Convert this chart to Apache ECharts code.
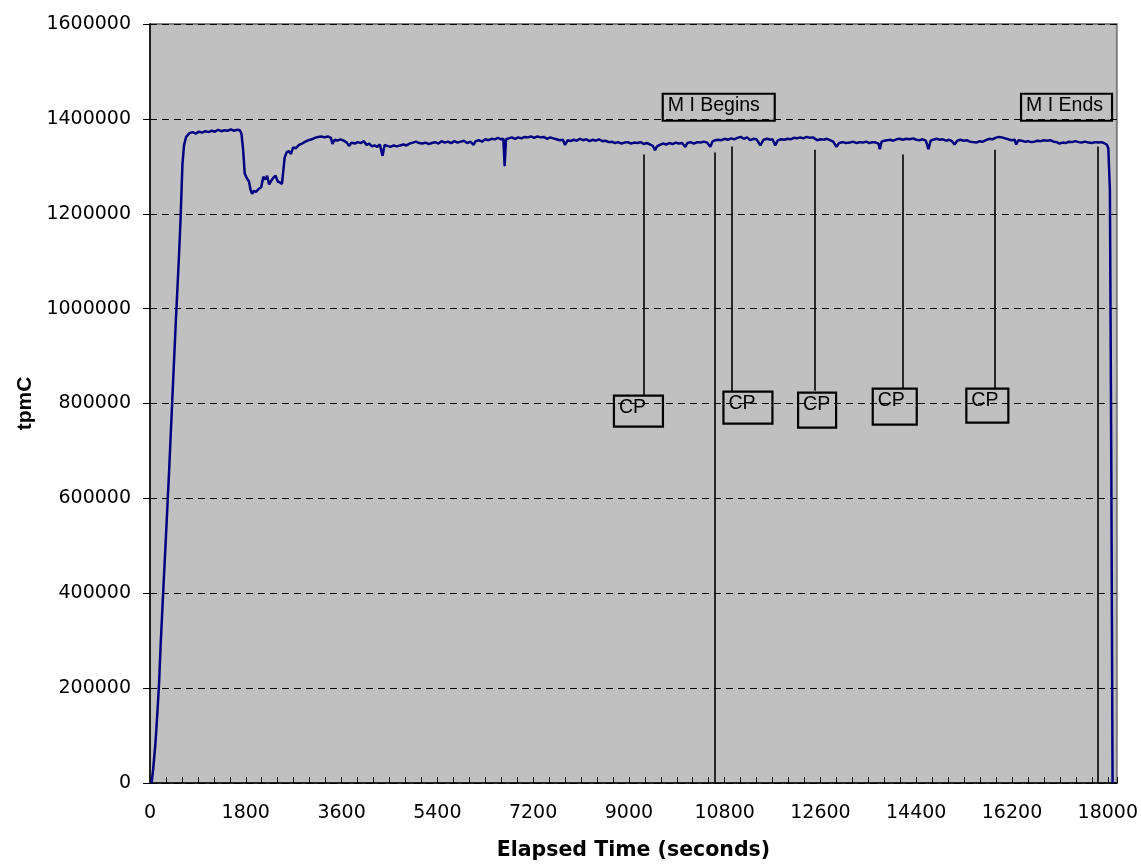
<!DOCTYPE html>
<html>
<head>
<meta charset="utf-8">
<script src="https://cdn.jsdelivr.net/npm/echarts@6/dist/echarts.min.js"></script>
<style>
html,body{margin:0;padding:0;background:#fff;}
#chart{width:1141px;height:866px;}
</style>
</head>
<body>
<div id="chart"></div>
<script>
// Elapsed time (seconds)
const times = [
30,60,100,140,170,200,240,300,360,420,480,540,575,610,640,680,740,800,860,920,980,1040,1100,1160,1220,1280,1340,1400,1460,1520,1580,1640,1690,1720,1750,1780,1820,1860,1890,1920,1950,1990,2040,2090,2130,2170,2200,2240,2280,2320,2360,2400,2440,2480,2510,2530,2570,2610,2650,2690,2740,2800,2860,2920,2980,3040,3100,3160,3220,3280,3340,3400,3430,3470,3520,3580,3640,3700,3740,3790,3850,3900,3960,4020,4070,4120,4170,4220,4270,4320,4370,4410,4460,4520,4580,4640,4700,4760,4820,4880,4940,5000,5060,5120,5180,5240,5300,5360,5420,5480,5540,5600,5660,5720,5780,5840,5900,5960,6020,6080,6120,6180,6240,6300,6360,6420,6480,6540,6600,6640,6665,6690,6740,6800,6860,6920,6980,7040,7100,7160,7220,7280,7340,7400,7460,7520,7580,7640,7700,7760,7800,7850,7900,7960,8020,8080,8140,8200,8260,8320,8380,8440,8500,8560,8620,8680,8740,8800,8860,8920,8980,9040,9100,9160,9220,9280,9340,9400,9450,9490,9530,9580,9640,9700,9760,9820,9880,9940,10000,10060,10100,10160,10220,10290,10350,10410,10470,10530,10570,10620,10680,10740,10800,10860,10920,10980,11040,11100,11160,11220,11280,11340,11400,11470,11530,11600,11660,11700,11750,11800,11860,11920,11980,12040,12100,12160,12220,12280,12340,12400,12460,12540,12600,12660,12720,12780,12840,12900,12950,13020,13080,13150,13210,13280,13340,13400,13460,13520,13580,13640,13690,13715,13750,13800,13850,13910,13970,14030,14090,14150,14210,14280,14340,14400,14460,14520,14580,14630,14670,14720,14780,14840,14900,14960,15020,15070,15120,15170,15230,15290,15350,15410,15470,15530,15590,15650,15710,15770,15830,15890,15950,16010,16070,16130,16190,16250,16280,16320,16380,16440,16500,16560,16620,16680,16740,16800,16860,16920,16980,17040,17090,17150,17210,17270,17330,17390,17450,17510,17570,17640,17700,17760,17820,17880,17930,17980,18010,18040,18065,18090
];
// tpmC
const tpmC = [
0,30000,80000,150000,210000,290000,385000,520000,660000,810000,960000,1100000,1190000,1305000,1345000,1362000,1370000,1372000,1369000,1373000,1371000,1374000,1372000,1375000,1373000,1377000,1374000,1376000,1375000,1378000,1375000,1377000,1376000,1368000,1335000,1285000,1275000,1268000,1250000,1242000,1248000,1246000,1252000,1256000,1278000,1272000,1280000,1262000,1270000,1276000,1280000,1268000,1266000,1263000,1260000,1318000,1330000,1332000,1326000,1340000,1338000,1345000,1348000,1352000,1355000,1357000,1360000,1362000,1363000,1361000,1363000,1360000,1347000,1356000,1354000,1357000,1354000,1350000,1343000,1350000,1348000,1351000,1349000,1353000,1345000,1348000,1342000,1344000,1341000,1346000,1322000,1345000,1343000,1341000,1344000,1342000,1344000,1346000,1344000,1348000,1350000,1352000,1349000,1348000,1350000,1347000,1349000,1351000,1348000,1353000,1350000,1352000,1349000,1353000,1350000,1352000,1354000,1349000,1352000,1345000,1353000,1355000,1352000,1357000,1355000,1358000,1357000,1360000,1357000,1358000,1300000,1357000,1359000,1361000,1358000,1361000,1359000,1362000,1361000,1363000,1360000,1363000,1361000,1362000,1358000,1361000,1359000,1357000,1355000,1356000,1345000,1355000,1353000,1356000,1354000,1358000,1355000,1357000,1353000,1356000,1354000,1357000,1353000,1354000,1351000,1352000,1349000,1351000,1348000,1350000,1351000,1348000,1350000,1349000,1351000,1347000,1349000,1346000,1343000,1334000,1342000,1345000,1348000,1346000,1349000,1347000,1350000,1348000,1349000,1341000,1349000,1351000,1348000,1351000,1350000,1352000,1350000,1341000,1352000,1355000,1356000,1355000,1358000,1356000,1359000,1357000,1360000,1362000,1358000,1361000,1355000,1358000,1357000,1344000,1356000,1358000,1356000,1357000,1344000,1355000,1357000,1356000,1358000,1357000,1360000,1359000,1361000,1359000,1362000,1360000,1361000,1355000,1357000,1356000,1358000,1355000,1352000,1341000,1349000,1351000,1349000,1350000,1352000,1349000,1351000,1350000,1352000,1349000,1351000,1350000,1348000,1336000,1352000,1354000,1355000,1356000,1354000,1357000,1358000,1356000,1358000,1357000,1359000,1356000,1355000,1357000,1354000,1336000,1354000,1356000,1358000,1356000,1357000,1354000,1356000,1353000,1346000,1354000,1356000,1354000,1355000,1352000,1351000,1350000,1353000,1352000,1355000,1358000,1357000,1360000,1362000,1361000,1359000,1357000,1355000,1356000,1346000,1355000,1354000,1352000,1353000,1351000,1352000,1354000,1353000,1355000,1354000,1355000,1352000,1351000,1348000,1350000,1349000,1352000,1351000,1353000,1351000,1350000,1352000,1350000,1349000,1351000,1350000,1351000,1349000,1346000,1338000,1250000,700000,0
];

// Checkpoint markers: time, line top value, line bottom value
const cpTimes   = [9280, 10930, 12500, 14150, 15870];
const cpTop     = [1325000, 1342000, 1335000, 1325000, 1335000];
const cpBottom  = [817000, 825000, 827000, 831000, 831000];
// CP label boxes (top-left corner in data units) and box size
const cpBoxT    = [8719, 10777, 12180, 13583, 15342];
const cpBoxV    = [816800, 825200, 823100, 831500, 831500];
const cpBoxW    = [50, 50, 39, 45, 43];
const cpBoxH    = [33, 34, 37, 38, 36];
const cpLabel   = 'CP';

// Measurement interval markers
const miTimes   = [10605, 17812];
const miTop     = [1329000, 1342000];
const miLabels  = ['M I Begins', 'M I Ends'];
const miBoxT    = [9636, 16370];
const miBoxV    = [1453000, 1453000];
const miBoxW    = [113, 92];

const chart = echarts.init(document.getElementById('chart'), null, {renderer:'canvas'});

const lineData = times.map((t,i)=>[t, tpmC[i]]);

const markLines = [];
cpTimes.forEach((t,i)=>{
  markLines.push([{coord:[t, cpTop[i]]},{coord:[t, cpBottom[i]]}]);
});
miTimes.forEach((t,i)=>{
  markLines.push([{coord:[t, miTop[i]]},{coord:[t, 0]}]);
});

const boxLabel = (w,h)=>({
  show:true,
  formatter:'{b}',
  position:'inside',
  align:'left',
  verticalAlign:'top',
  width:w-6,
  height:h-2,
  padding:[0,0,0,5],
  borderColor:'#000',
  borderWidth:1.1,
  backgroundColor:'transparent',
  color:'#000',
  fontFamily:'"Liberation Sans", Arial, sans-serif',
  fontSize:19.5,
  lineHeight:24
});

const markPoints = [];
cpBoxT.forEach((t,i)=>{
  markPoints.push({name:cpLabel, coord:[t, cpBoxV[i]], label: boxLabel(cpBoxW[i], cpBoxH[i])});
});
miBoxT.forEach((t,i)=>{
  markPoints.push({name:miLabels[i], coord:[t, miBoxV[i]], label: boxLabel(miBoxW[i], 29)});
});

const tickFont = '"DejaVu Sans", Verdana, sans-serif';

const option = {
  animation:false,
  backgroundColor:'#ffffff',
  grid:{
    left:150, right:20, top:24, bottom:80,
    show:true, backgroundColor:'#c0c0c0', borderColor:'#808080', borderWidth:2
  },
  xAxis:{
    type:'value', min:0, max:18170, interval:1800,
    name:'Elapsed Time (seconds)', nameLocation:'middle', nameGap:57,
    nameTextStyle:{fontFamily:'"DejaVu Sans", sans-serif', fontWeight:'bold', fontSize:20.5, color:'#000'},
    axisLine:{show:true, onZero:false, lineStyle:{color:'#000', width:1.5}},
    axisTick:{show:true, inside:true, length:6, lineStyle:{color:'#000', width:1}},
    minorTick:{show:true, splitNumber:6, length:6, lineStyle:{color:'#000', width:1}},
    axisLabel:{color:'#000', fontSize:19, fontFamily:tickFont, margin:21, showMaxLabel:false,
      formatter:(v)=> (v % 1800 === 0 ? String(v) : '')},
    splitLine:{show:false}
  },
  yAxis:{
    type:'value', min:0, max:1600000, interval:200000,
    name:'tpmC', nameLocation:'middle', nameGap:106, nameRotate:90,
    nameTextStyle:{fontFamily:'"Liberation Sans", Arial, sans-serif', fontWeight:'bold', fontSize:21, color:'#000'},
    axisLine:{show:true, lineStyle:{color:'#000', width:1.5}},
    axisTick:{show:true, inside:false, length:7, lineStyle:{color:'#000', width:1}},
    axisLabel:{color:'#000', fontSize:19, fontFamily:tickFont, margin:19,
      formatter:(v)=> String(v)},
    splitLine:{show:true, lineStyle:{color:'#000', width:1, type:[7,5]}}
  },
  series:[{
    type:'line',
    data:lineData,
    showSymbol:false,
    symbol:'none',
    lineStyle:{color:'#000080', width:2.5},
    z:3,
    markLine:{
      silent:true, symbol:'none', animation:false,
      label:{show:false},
      lineStyle:{color:'#000', width:1.6, type:'solid'},
      data:markLines
    },
    markPoint:{
      silent:true, animation:false,
      symbol:'rect', symbolSize:0,
      data:markPoints
    }
  }]
};
chart.setOption(option);
</script>
</body>
</html>
